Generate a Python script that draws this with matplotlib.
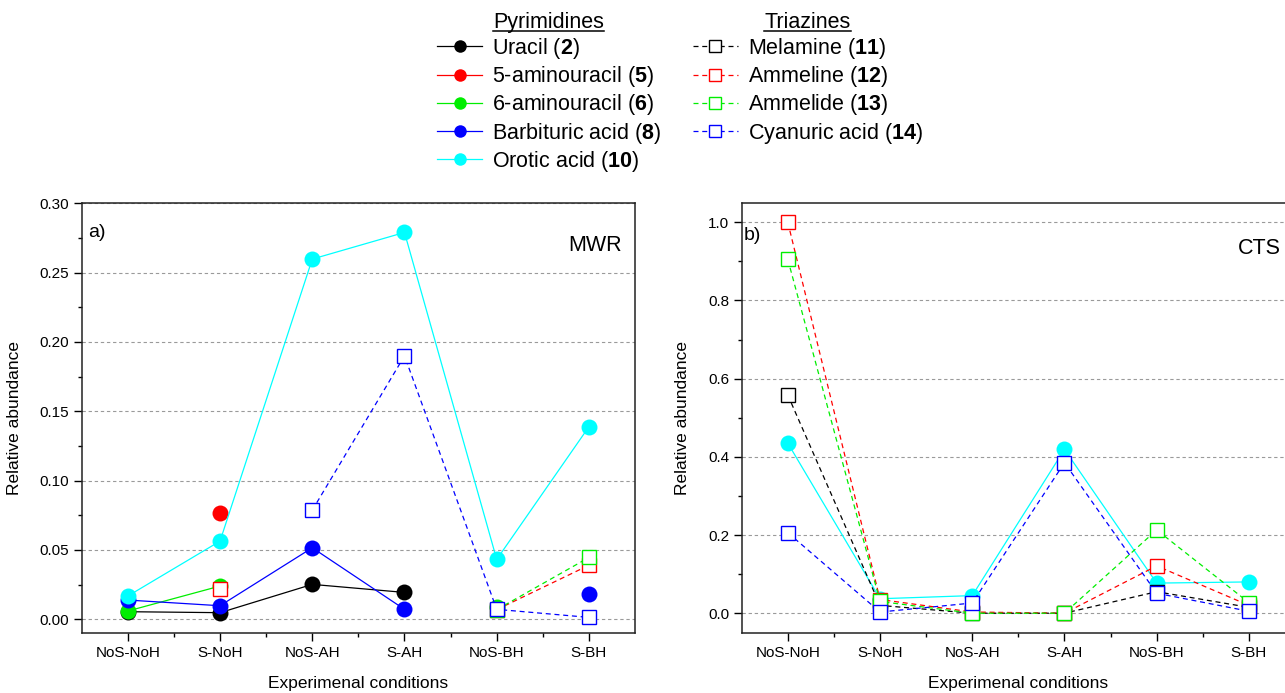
"""
Relative abundance of pyrimidines and triazines under the experimental
conditions, MWR (a) and CTS (b) panels.

Output:
    out.png
"""

import numpy as np
import matplotlib.pyplot as plt
from matplotlib.lines import Line2D
from matplotlib.ticker import FixedLocator, MultipleLocator


plt.rcParams["font.family"] = ["Liberation Sans", "DejaVu Sans"]
plt.rcParams["mathtext.fontset"] = "custom"
plt.rcParams["mathtext.rm"] = "Liberation Sans"
plt.rcParams["mathtext.bf"] = "Liberation Sans:bold"

OUTPUT_FIGURE = "out.png"

nan = np.nan

CONDITIONS = ["NoS-NoH", "S-NoH", "NoS-AH", "S-AH", "NoS-BH", "S-BH"]

# panel a) MWR
uracil_mwr = [0.0055, 0.0048, 0.0252, 0.0194, nan, nan]
aminouracil5_mwr = [nan, 0.0768, nan, nan, nan, nan]
aminouracil6_mwr = [0.006, 0.024, nan, nan, 0.009, nan]
barbituric_mwr = [0.0139, 0.0098, 0.0516, 0.0072, nan, 0.018]
orotic_mwr = [0.0168, 0.0564, 0.2598, 0.279, 0.0432, 0.1389]
melamine_mwr = [nan, nan, nan, nan, nan, nan]
ammeline_mwr = [nan, 0.0218, nan, nan, 0.007, 0.039]
ammelide_mwr = [nan, nan, nan, nan, 0.007, 0.0446]
cyanuric_mwr = [nan, nan, 0.0787, 0.190, 0.0072, 0.0014]

# panel b) CTS
uracil_cts = [nan] * 6
aminouracil5_cts = [nan] * 6
aminouracil6_cts = [nan] * 6
barbituric_cts = [nan] * 6
orotic_cts = [0.435, 0.037, 0.045, 0.419, 0.077, 0.080]
melamine_cts = [0.558, 0.020, 0.0, 0.0, 0.055, 0.015]
ammeline_cts = [1.0, 0.035, 0.003, 0.0, 0.121, 0.020]
ammelide_cts = [0.905, 0.030, 0.0, 0.0, 0.213, 0.027]
cyanuric_cts = [0.206, 0.003, 0.026, 0.385, 0.051, 0.005]

PYRIMIDINES = [
    (r"Uracil ($\mathbf{2}$)", "#000000", uracil_mwr, uracil_cts),
    (r"5-aminouracil ($\mathbf{5}$)", "#ff0000", aminouracil5_mwr, aminouracil5_cts),
    (r"6-aminouracil ($\mathbf{6}$)", "#00ee00", aminouracil6_mwr, aminouracil6_cts),
    (r"Barbituric acid ($\mathbf{8}$)", "#0000ff", barbituric_mwr, barbituric_cts),
    (r"Orotic acid ($\mathbf{10}$)", "#00ffff", orotic_mwr, orotic_cts),
]

TRIAZINES = [
    (r"Melamine ($\mathbf{11}$)", "#000000", melamine_mwr, melamine_cts),
    (r"Ammeline ($\mathbf{12}$)", "#ff0000", ammeline_mwr, ammeline_cts),
    (r"Ammelide ($\mathbf{13}$)", "#00ee00", ammelide_mwr, ammelide_cts),
    (r"Cyanuric acid ($\mathbf{14}$)", "#0000ff", cyanuric_mwr, cyanuric_cts),
]

FS_TICK = 11
FS_LABEL = 12.5
FS_LEGEND = 15.5


def draw_panel(ax, panel, ylim, major, minor, tag, name, tag_xy, name_xy):
    x = np.arange(len(CONDITIONS))
    pyr_handles = []
    tri_handles = []

    for label, color, mwr, cts in PYRIMIDINES:
        values = mwr if panel == 0 else cts
        (line,) = ax.plot(x, values, color=color, lw=0.9, marker="o",
                          markersize=11.5, markeredgewidth=0, label=label,
                          zorder=3)
        pyr_handles.append(line)

    for label, color, mwr, cts in TRIAZINES:
        values = mwr if panel == 0 else cts
        (line,) = ax.plot(x, values, color=color, lw=0.9, ls=(0, (4, 3)),
                          marker="s", markersize=9.5, markerfacecolor="white",
                          markeredgecolor=color, markeredgewidth=1.0,
                          label=label, zorder=4)
        tri_handles.append(line)

    ax.set_xlim(-0.5, 5.5)
    ax.set_ylim(*ylim)
    ax.set_xticks(x)
    ax.set_xticklabels(CONDITIONS, fontsize=FS_TICK)
    ax.xaxis.set_minor_locator(FixedLocator(x[:-1] + 0.5))
    ax.yaxis.set_major_locator(MultipleLocator(major))
    ax.yaxis.set_minor_locator(MultipleLocator(minor))
    ax.tick_params(axis="both", which="major", direction="out", length=6,
                   width=1.0, labelsize=FS_TICK, pad=3)
    ax.tick_params(axis="both", which="minor", direction="out", length=3,
                   width=1.0)
    ax.yaxis.grid(True, color="#9a9a9a", ls=(0, (3, 2.5)), lw=0.8)
    ax.set_axisbelow(True)
    for spine in ax.spines.values():
        spine.set_linewidth(1.1)
        spine.set_color("#222222")

    ax.set_ylabel("Relative abundance", fontsize=FS_LABEL)
    ax.set_xlabel("Experimenal conditions", fontsize=FS_LABEL)

    ax.text(*tag_xy, tag, transform=ax.transAxes, fontsize=14,
            ha="left", va="center")
    ax.text(*name_xy, name, transform=ax.transAxes, fontsize=15.5,
            ha="right", va="center")

    return pyr_handles, tri_handles


def underline_title(fig, legend):
    renderer = fig.canvas.get_renderer()
    bbox = legend.get_title().get_window_extent(renderer)
    inv = fig.transFigure.inverted()
    (x0, y0), (x1, _) = inv.transform([(bbox.x0, bbox.y0 + 2), (bbox.x1, bbox.y0)])
    fig.add_artist(Line2D([x0, x1], [y0, y0], transform=fig.transFigure,
                          color="black", lw=1.1))


def main():
    fig = plt.figure(figsize=(12.85, 6.93), dpi=100)

    ax_a = fig.add_axes([0.0636, 0.0861, 0.4306, 0.6205])
    ax_b = fig.add_axes([0.5772, 0.0861, 0.4306, 0.6205])

    pyr_handles, tri_handles = draw_panel(
        ax_a, 0, (-0.0101, 0.30), 0.05, 0.025, "a)", "MWR",
        (0.012, 0.933), (0.977, 0.903))
    draw_panel(ax_b, 1, (-0.0515, 1.0485), 0.2, 0.1, "b)", "CTS",
               (0.004, 0.926), (0.975, 0.896))

    ax_a.yaxis.set_major_formatter(plt.FormatStrFormatter("%.2f"))
    ax_b.yaxis.set_major_formatter(plt.FormatStrFormatter("%.1f"))
    ax_a.yaxis.set_label_coords(-0.108, 0.5)
    ax_b.yaxis.set_label_coords(-0.0934, 0.5)
    ax_a.xaxis.set_label_coords(0.5, -0.099)
    ax_b.xaxis.set_label_coords(0.5, -0.099)

    legend_style = dict(loc="upper left", frameon=False, borderpad=0,
                        borderaxespad=0, fontsize=FS_LEGEND,
                        title_fontsize=FS_LEGEND, handlelength=2.1,
                        handletextpad=0.45, labelspacing=0.15)

    leg_pyr = fig.legend(pyr_handles, [h.get_label() for h in pyr_handles],
                         title="Pyrimidines", bbox_to_anchor=(0.340, 0.983),
                         **legend_style)
    leg_tri = fig.legend(tri_handles, [h.get_label() for h in tri_handles],
                         title="Triazines", bbox_to_anchor=(0.539, 0.983),
                         **legend_style)
    for leg in (leg_pyr, leg_tri):
        for handle in leg.legend_handles:
            handle.set_markersize(9)

    fig.canvas.draw()
    underline_title(fig, leg_pyr)
    underline_title(fig, leg_tri)

    fig.savefig(OUTPUT_FIGURE, dpi=100)
    plt.close(fig)


if __name__ == "__main__":
    main()
